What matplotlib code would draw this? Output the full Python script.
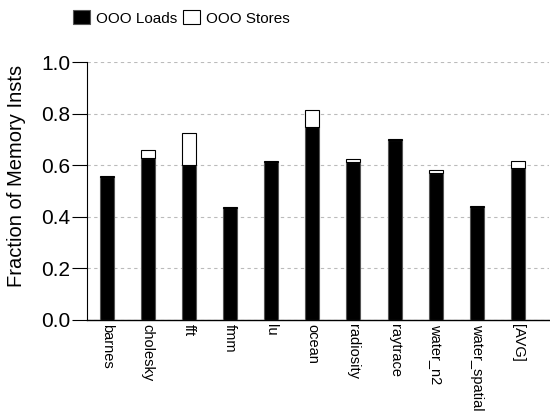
import matplotlib.pyplot as plt
import numpy as np

plt.rcParams['font.family'] = ['Liberation Sans', 'DejaVu Sans']

benchmarks = ["barnes", "cholesky", "fft", "fmm", "lu", "ocean",
              "radiosity", "raytrace", "water_n2", "water_spatial", "[AVG]"]
ooo_loads = [0.553, 0.629, 0.601, 0.435, 0.614, 0.750, 0.612, 0.699, 0.571, 0.438, 0.590]
ooo_stores = [0.004, 0.031, 0.125, 0.003, 0.004, 0.065, 0.012, 0.004, 0.009, 0.003, 0.026]

fig = plt.figure(figsize=(5.5, 4.17), dpi=100)
ax = fig.add_axes([0.158, 0.233, 0.84, 0.618])

x = np.arange(len(benchmarks))
w = 0.34
ax.bar(x, ooo_loads, w, color="black", edgecolor="#555555", linewidth=0.8,
       label="OOO Loads", zorder=3)
ax.bar(x, ooo_stores, w, bottom=ooo_loads, color="white", edgecolor="black",
       linewidth=0.8, label="OOO Stores", zorder=3)

ax.set_xlim(-0.48, 10.75)
ax.set_ylim(0, 1.0)
ax.set_yticks([0.0, 0.2, 0.4, 0.6, 0.8, 1.0])
ax.set_yticklabels(["0.0", "0.2", "0.4", "0.6", "0.8", "1.0"], fontsize=15)
ax.set_ylabel("Fraction of Memory Insts", fontsize=14.5)
ax.yaxis.set_label_coords(-0.132, 0.56)
ax.set_xticks(x)
ax.set_xticklabels(benchmarks, rotation=270, fontsize=10.5, va="top", ha="center")
ax.tick_params(axis="x", length=0, pad=3)
ax.tick_params(axis="y", length=11, width=0.8, pad=1)

ax.yaxis.grid(True, linestyle=(0, (3, 3)), color="#bbbbbb", linewidth=0.8, zorder=0)
ax.spines["top"].set_visible(False)
ax.spines["right"].set_visible(False)
ax.spines["left"].set_linewidth(0.8)
ax.spines["bottom"].set_linewidth(1.0)

fig.legend(loc="upper left", bbox_to_anchor=(0.122, 0.99), ncol=2, frameon=False,
           fontsize=11, handlelength=1.1, handleheight=1.05, handletextpad=0.4,
           columnspacing=0.4, borderaxespad=0)

fig.savefig("out.png", dpi=100)
